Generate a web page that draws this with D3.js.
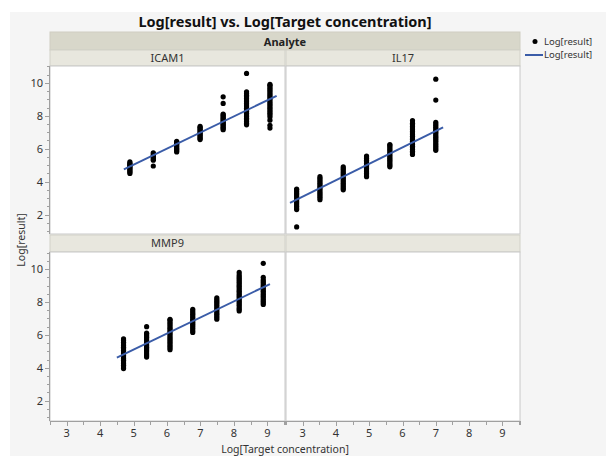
<!DOCTYPE html>
<html>
<head>
<meta charset="utf-8">
<script src="https://cdn.jsdelivr.net/npm/d3@7"></script>
<style>
  body { margin: 0; background: #ffffff; }
  svg text { font-family: "Noto Sans", "Open Sans", sans-serif; }
</style>
</head>
<body>
<svg id="chart" width="606" height="456"></svg>
<script>
// ---------------- DATA ----------------
const title = "Log[result] vs. Log[Target concentration]";
const groupLabel = "Analyte";
const analytes = ["ICAM1", "IL17", "MMP9"];
const xTicks = [3, 4, 5, 6, 7, 8, 9];
const yTicks = [2, 4, 6, 8, 10];
const xLabel = "Log[Target concentration]";
const yLabel = "Log[result]";
const legendLabels = ["Log[result]", "Log[result]"];

// ICAM1
const icam1X = [4.89, 5.59, 6.29, 6.99, 7.68, 8.38, 9.08];
const icam1Y = [
  [4.5, 4.58, 4.65, 4.72, 4.8, 4.86, 4.93, 5.0, 5.06, 5.12, 5.2],
  [4.95, 5.3, 5.38, 5.45, 5.52, 5.6, 5.68, 5.75],
  [5.8, 5.88, 5.95, 6.02, 6.1, 6.18, 6.25, 6.32, 6.4, 6.45],
  [6.55, 6.62, 6.7, 6.78, 6.85, 6.92, 7.0, 7.08, 7.15, 7.22, 7.3, 7.35],
  [7.15, 7.22, 7.3, 7.38, 7.45, 7.52, 7.6, 7.68, 7.75, 7.82, 7.9, 7.98, 8.05, 8.1, 8.75, 9.15],
  [7.45, 7.55, 7.65, 7.75, 7.85, 7.95, 8.05, 8.15, 8.25, 8.35, 8.45, 8.55, 8.65, 8.75, 8.85, 8.95, 9.05, 9.15, 9.25, 9.35, 9.45, 10.57],
  [7.25, 7.42, 7.73, 7.93, 8.05, 8.15, 8.25, 8.35, 8.45, 8.55, 8.65, 8.75, 8.85, 8.95, 9.05, 9.15, 9.25, 9.35, 9.45, 9.55, 9.65, 9.75, 9.85, 9.9]
];
const icam1Fit = { x: [4.71, 9.28], y: [4.74, 9.21] };

// IL17
const il17X = [2.82, 3.52, 4.22, 4.92, 5.62, 6.30, 7.00];
const il17Y = [
  [1.25, 2.3, 2.4, 2.5, 2.6, 2.7, 2.8, 2.9, 3.0, 3.1, 3.2, 3.3, 3.4, 3.5, 3.55],
  [2.9, 3.0, 3.1, 3.2, 3.3, 3.4, 3.5, 3.6, 3.7, 3.8, 3.9, 4.0, 4.1, 4.2, 4.3],
  [3.5, 3.6, 3.7, 3.8, 3.9, 4.0, 4.1, 4.2, 4.3, 4.4, 4.5, 4.6, 4.7, 4.8, 4.9],
  [4.3, 4.4, 4.5, 4.6, 4.7, 4.8, 4.9, 5.0, 5.1, 5.2, 5.3, 5.4, 5.5, 5.55],
  [4.9, 5.0, 5.1, 5.2, 5.3, 5.4, 5.5, 5.6, 5.7, 5.8, 5.9, 6.0, 6.1, 6.2, 6.25],
  [5.65, 5.75, 5.85, 5.95, 6.05, 6.15, 6.25, 6.35, 6.45, 6.55, 6.65, 6.75, 6.85, 6.95, 7.05, 7.15, 7.25, 7.35, 7.45, 7.55, 7.7],
  [5.9, 6.0, 6.1, 6.2, 6.3, 6.4, 6.5, 6.6, 6.7, 6.8, 6.9, 7.0, 7.1, 7.2, 7.3, 7.4, 7.5, 7.6, 8.95, 10.22]
];
const il17Fit = { x: [2.62, 7.22], y: [2.71, 7.29] };

// MMP9
const mmp9X = [4.70, 5.39, 6.09, 6.77, 7.49, 8.16, 8.88];
const mmp9Y = [
  [3.95, 4.05, 4.15, 4.25, 4.35, 4.45, 4.55, 4.65, 4.75, 4.85, 4.95, 5.05, 5.15, 5.25, 5.35, 5.45, 5.55, 5.65, 5.75],
  [4.65, 4.75, 4.85, 4.95, 5.05, 5.15, 5.25, 5.35, 5.45, 5.55, 5.65, 5.75, 5.85, 5.95, 6.05, 6.1, 6.5],
  [5.1, 5.2, 5.3, 5.4, 5.5, 5.6, 5.7, 5.8, 5.9, 6.0, 6.1, 6.2, 6.3, 6.4, 6.5, 6.6, 6.7, 6.8, 6.9, 6.95],
  [6.15, 6.25, 6.35, 6.45, 6.55, 6.65, 6.75, 6.85, 6.95, 7.05, 7.15, 7.25, 7.35, 7.45, 7.55],
  [6.95, 7.05, 7.15, 7.25, 7.35, 7.45, 7.55, 7.65, 7.75, 7.85, 7.95, 8.05, 8.15, 8.25],
  [7.45, 7.55, 7.65, 7.75, 7.85, 7.95, 8.05, 8.15, 8.25, 8.35, 8.45, 8.55, 8.65, 8.75, 8.85, 8.95, 9.05, 9.15, 9.25, 9.35, 9.45, 9.55, 9.65, 9.8],
  [7.85, 7.95, 8.05, 8.15, 8.25, 8.35, 8.45, 8.55, 8.65, 8.75, 8.85, 8.95, 9.05, 9.15, 9.25, 9.35, 9.5, 10.35]
];
const mmp9Fit = { x: [4.50, 9.08], y: [4.62, 9.09] };

// ---------------- LAYOUT ----------------
const svg = d3.select("#chart");
const cols = [{ x0: 50, x1: 285 }, { x0: 286, x1: 520 }];
const rows = [{ y0: 66, y1: 234, sy0: 50 }, { y0: 252, y1: 421, sy0: 235 }];
const xDomain = [2.5, 9.53];
const yDomains = [[0.82, 11.02], [0.76, 11.04]];

const BG = "#f5f5f5";
const BAND = "#d8d7ca";
const STRIP = "#e8e7de";
const BORDER = "#c8c8c8";
const AXIS = "#a0a0a0";
const TEXT = "#333333";
const FIT = "#3a5ca8";

svg.append("rect").attr("x", 10).attr("y", 12).attr("width", 596).attr("height", 444).attr("fill", BG);

const xScales = cols.map(c => d3.scaleLinear().domain(xDomain).range([c.x0, c.x1]));
const yScales = rows.map((r, i) => d3.scaleLinear().domain(yDomains[i]).range([r.y1, r.y0]));

// title
svg.append("text").attr("x", 285).attr("y", 27).attr("text-anchor", "middle")
  .attr("font-size", 14.5).attr("font-weight", "bold").attr("fill", "#111").text(title);

// Analyte band
svg.append("rect").attr("x", 50).attr("y", 32).attr("width", 470).attr("height", 18)
  .attr("fill", BAND).attr("stroke", "#cfcec2");
svg.append("text").attr("x", 285).attr("y", 45.5).attr("text-anchor", "middle")
  .attr("font-size", 11).attr("font-weight", "bold").attr("fill", "#222").text(groupLabel);

const panels = [
  { name: analytes[0], col: 0, row: 0, xs: icam1X, ys: icam1Y, fit: icam1Fit },
  { name: analytes[1], col: 1, row: 0, xs: il17X, ys: il17Y, fit: il17Fit },
  { name: analytes[2], col: 0, row: 1, xs: mmp9X, ys: mmp9Y, fit: mmp9Fit },
  { name: "", col: 1, row: 1, xs: [], ys: [], fit: null }
];

panels.forEach(p => {
  const c = cols[p.col], r = rows[p.row];
  const xs = xScales[p.col], ys = yScales[p.row];
  svg.append("rect").attr("x", c.x0).attr("y", r.sy0).attr("width", c.x1 - c.x0).attr("height", r.y0 - r.sy0)
    .attr("fill", STRIP).attr("stroke", "#d2d1c8");
  if (p.name) svg.append("text").attr("x", (c.x0 + c.x1) / 2).attr("y", r.sy0 + 12)
    .attr("text-anchor", "middle").attr("font-size", 11).attr("fill", TEXT).text(p.name);
  svg.append("rect").attr("x", c.x0).attr("y", r.y0).attr("width", c.x1 - c.x0).attr("height", r.y1 - r.y0)
    .attr("fill", "#ffffff").attr("stroke", BORDER);
  const g = svg.append("g");
  const pts = [];
  p.xs.forEach((xv, i) => p.ys[i].forEach(yv => pts.push([xv, yv])));
  g.selectAll("circle").data(pts).join("circle")
    .attr("cx", d => xs(d[0])).attr("cy", d => ys(d[1])).attr("r", 2.6).attr("fill", "#000");
  if (p.fit) {
    g.append("line")
      .attr("x1", xs(p.fit.x[0])).attr("y1", ys(p.fit.y[0]))
      .attr("x2", xs(p.fit.x[1])).attr("y2", ys(p.fit.y[1]))
      .attr("stroke", FIT).attr("stroke-width", 2);
  }
});

// Y axes (left column only)
rows.forEach((r, i) => {
  const ys = yScales[i];
  const ax = svg.append("g").attr("transform", "translate(50,0)");
  const minor = d3.range(1, 11.01, 0.5).filter(v => v >= yDomains[i][0] && v <= yDomains[i][1] && !yTicks.includes(v));
  ax.selectAll("line.minor").data(minor).join("line")
    .attr("x1", -3).attr("x2", 0).attr("y1", d => Math.round(ys(d)) + 0.5).attr("y2", d => Math.round(ys(d)) + 0.5)
    .attr("stroke", AXIS);
  ax.selectAll("line.major").data(yTicks).join("line")
    .attr("x1", -5).attr("x2", 0).attr("y1", d => Math.round(ys(d)) + 0.5).attr("y2", d => Math.round(ys(d)) + 0.5)
    .attr("stroke", AXIS);
  ax.selectAll("text").data(yTicks).join("text")
    .attr("x", -7).attr("y", d => ys(d) + 4).attr("text-anchor", "end")
    .attr("font-size", 11).attr("fill", TEXT).text(d => d);
  ax.append("line").attr("x1", -0.5).attr("x2", -0.5).attr("y1", r.y0).attr("y2", r.y1).attr("stroke", AXIS);
});

// X axes (bottom row)
cols.forEach((c, i) => {
  const xs = xScales[i];
  const ax = svg.append("g").attr("transform", "translate(0,421)");
  const minor = d3.range(2.5, 9.6, 0.5).filter(v => v <= xDomain[1] && !xTicks.includes(v));
  ax.selectAll("line.minor").data(minor).join("line")
    .attr("x1", d => Math.round(xs(d)) + 0.5).attr("x2", d => Math.round(xs(d)) + 0.5).attr("y1", 0).attr("y2", 4)
    .attr("stroke", AXIS);
  ax.selectAll("line.major").data(xTicks).join("line")
    .attr("x1", d => Math.round(xs(d)) + 0.5).attr("x2", d => Math.round(xs(d)) + 0.5).attr("y1", 0).attr("y2", 5)
    .attr("stroke", AXIS);
  ax.append("line").attr("x1", c.x1 + 0.5).attr("x2", c.x1 + 0.5).attr("y1", 0).attr("y2", 4).attr("stroke", AXIS);
  ax.selectAll("text").data(xTicks).join("text")
    .attr("x", d => xs(d)).attr("y", 16).attr("text-anchor", "middle")
    .attr("font-size", 11).attr("fill", TEXT).text(d => d);
  ax.append("line").attr("x1", c.x0).attr("x2", c.x1).attr("y1", 0.5).attr("y2", 0.5).attr("stroke", AXIS);
});

// axis titles
svg.append("text").attr("x", 285).attr("y", 453).attr("text-anchor", "middle")
  .attr("font-size", 10.5).attr("fill", TEXT).text(xLabel);
svg.append("text").attr("transform", "translate(25,240) rotate(-90)").attr("text-anchor", "middle")
  .attr("font-size", 10.5).attr("fill", TEXT).text(yLabel);

// legend
const lg = svg.append("g");
lg.append("circle").attr("cx", 535).attr("cy", 41.5).attr("r", 2.5).attr("fill", "#000");
lg.append("text").attr("x", 544).attr("y", 44.5).attr("font-size", 9.5).attr("fill", TEXT).text(legendLabels[0]);
lg.append("line").attr("x1", 525).attr("x2", 543).attr("y1", 55).attr("y2", 55).attr("stroke", FIT).attr("stroke-width", 2);
lg.append("text").attr("x", 544).attr("y", 58).attr("font-size", 9.5).attr("fill", TEXT).text(legendLabels[1]);
</script>
</body>
</html>
